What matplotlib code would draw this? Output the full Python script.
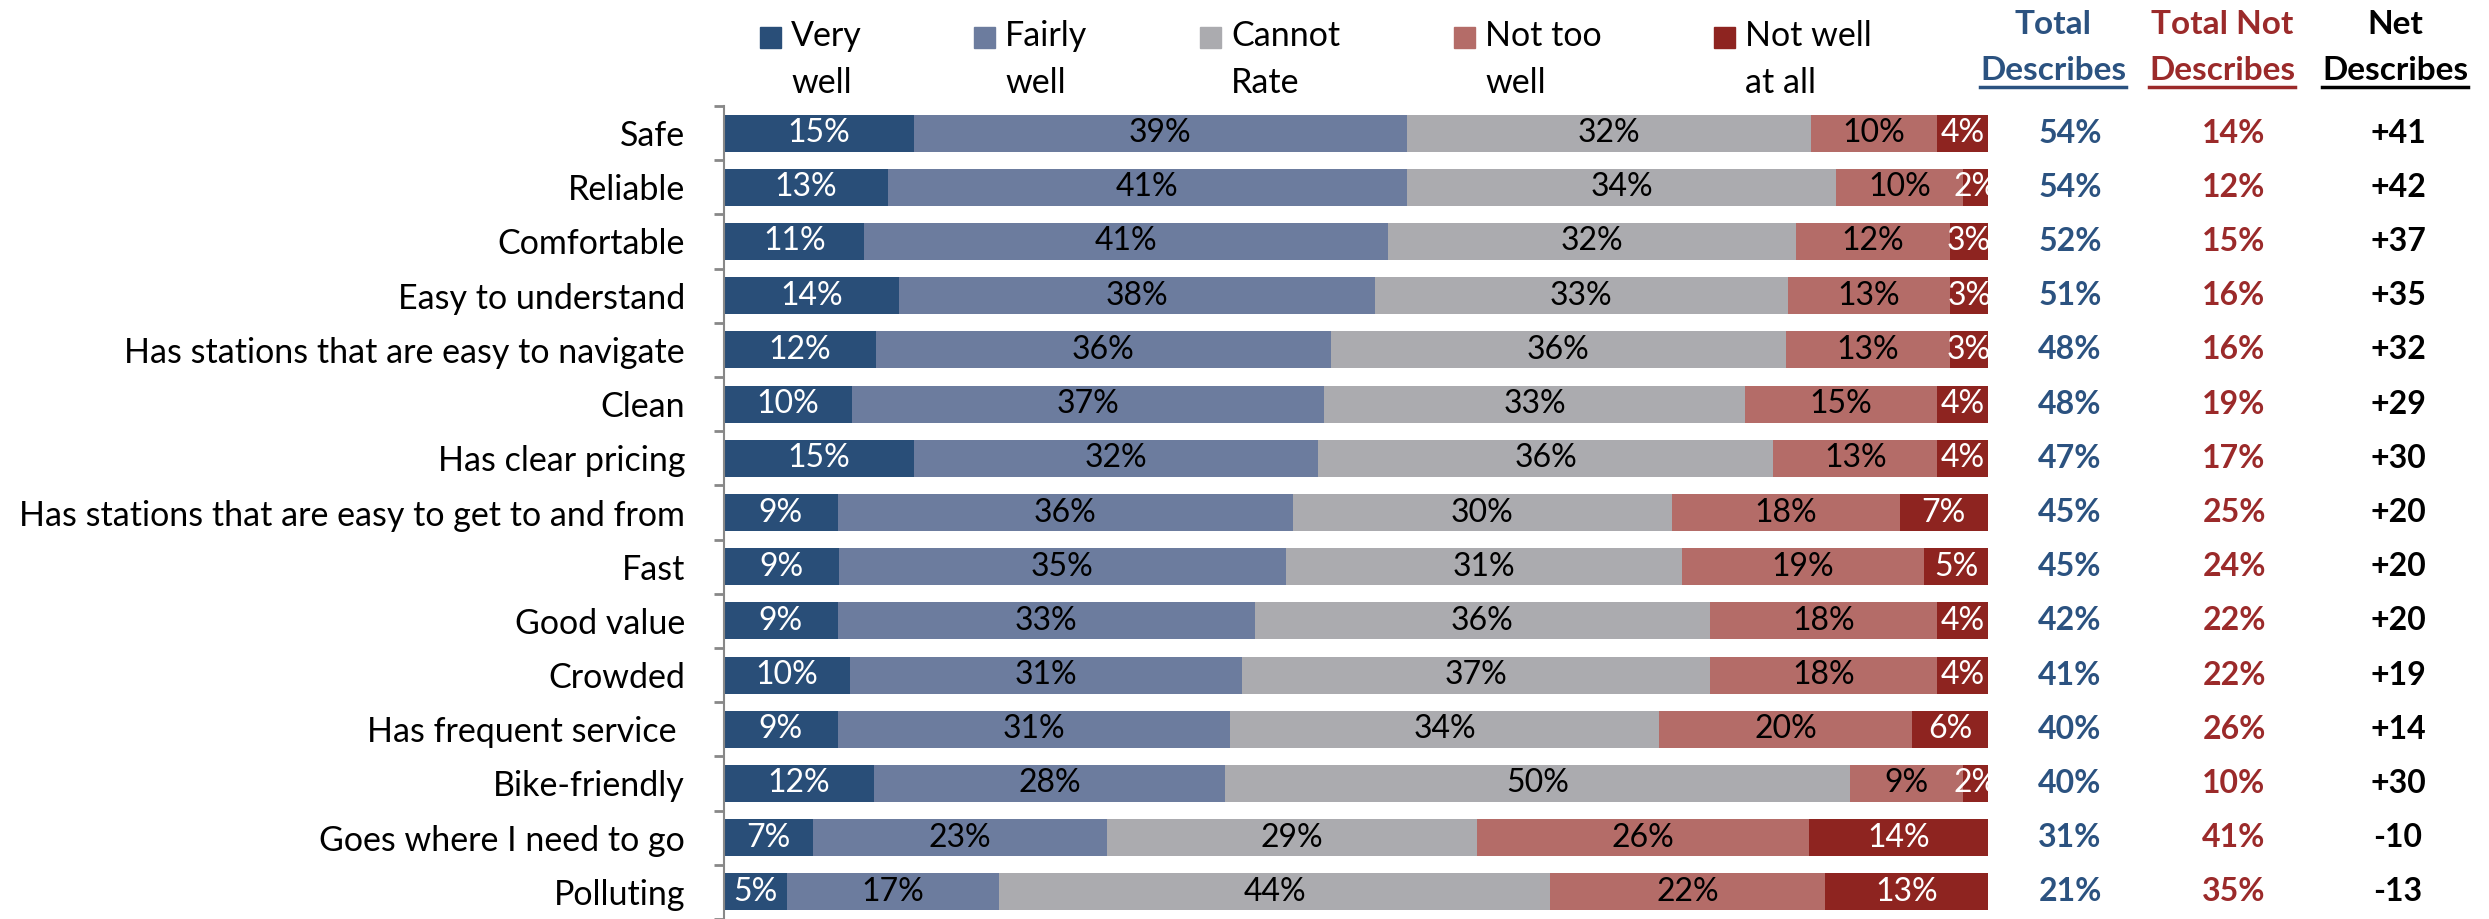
import matplotlib.pyplot as plt
import matplotlib.transforms as mtransforms
import numpy as np

plt.rcParams['font.family'] = ['Lato', 'DejaVu Sans']

categories = ['Safe', 'Reliable', 'Comfortable', 'Easy to understand',
              'Has stations that are easy to navigate', 'Clean', 'Has clear pricing',
              'Has stations that are easy to get to and from', 'Fast', 'Good value',
              'Crowded', 'Has frequent service ', 'Bike-friendly',
              'Goes where I need to go', 'Polluting']

very_well = [15, 13, 11, 14, 12, 10, 15, 9, 9, 9, 10, 9, 12, 7, 5]
fairly_well = [39, 41, 41, 38, 36, 37, 32, 36, 35, 33, 31, 31, 28, 23, 17]
cannot_rate = [32, 34, 32, 33, 36, 33, 36, 30, 31, 36, 37, 34, 50, 29, 44]
not_too_well = [10, 10, 12, 13, 13, 15, 13, 18, 19, 18, 18, 20, 9, 26, 22]
not_well_at_all = [4, 2, 3, 3, 3, 4, 4, 7, 5, 4, 4, 6, 2, 14, 13]

total_describes = [54, 54, 52, 51, 48, 48, 47, 45, 45, 42, 41, 40, 40, 31, 21]
total_not = [14, 12, 15, 16, 16, 19, 17, 25, 24, 22, 22, 26, 10, 41, 35]
net_describes = [41, 42, 37, 35, 32, 29, 30, 20, 20, 20, 19, 14, 30, -10, -13]

series = [very_well, fairly_well, cannot_rate, not_too_well, not_well_at_all]
legend_labels = ['Very\nwell', 'Fairly\nwell', 'Cannot\nRate', 'Not too\nwell', 'Not well\nat all']
colors = ['#294E78', '#6C7C9E', '#ABABAF', '#B46C68', '#8E2420']
text_colors = ['white', 'black', 'black', 'black', 'white']

W, H = 2489, 919
fig = plt.figure(figsize=(W / 100, H / 100), dpi=100)
ax = fig.add_axes([724 / W, 0, 1264 / W, 1 - 106 / H])

data = np.array(series, dtype=float)
shares = data / data.sum(axis=0)
y = np.arange(len(categories))
left = np.zeros(len(categories))
for vals, share, col, tcol in zip(series, shares, colors, text_colors):
    ax.barh(y, share, left=left, height=0.68, color=col, edgecolor='none')
    for i in range(len(categories)):
        ax.text(left[i] + share[i] / 2, y[i], f'{vals[i]}%', ha='center', va='center',
                fontsize=23, color=tcol)
    left += share

ax.set_xlim(0, 1)
ax.set_ylim(-0.5 + 813 / 54.64, -0.5)
ax.set_yticks(y)
ax.set_yticklabels(categories, fontsize=24.5)
ax.tick_params(axis='y', which='major', length=0, pad=28)
ax.set_yticks(np.arange(-0.5, len(categories), 1), minor=True)
ax.tick_params(axis='y', which='minor', length=7, width=2, color='#888888')
ax.set_xticks([])
for s in ['top', 'right', 'bottom']:
    ax.spines[s].set_visible(False)
ax.spines['left'].set_color('#888888')
ax.spines['left'].set_linewidth(1.5)

# legend
leg_x = [760, 974, 1200, 1454, 1714]
for lx, lab, col in zip(leg_x, legend_labels, colors):
    fig.patches.append(plt.Rectangle((lx / W, 1 - 48 / H), 21 / W, 21 / H,
                                     transform=fig.transFigure, color=col))
    top, bottom = lab.split('\n')
    fig.text((lx + 31) / W, 1 - 36 / H, top, fontsize=24.5, va='center', ha='left')
    fig.text((lx + 31) / W, 1 - 83 / H, bottom, fontsize=24.5, va='center', ha='left')

# right-hand columns
blue, red = '#2B5280', '#9B2A2A'
cols = [(2053, 2070, 'Total', blue, total_describes, '{}%'),
        (2222, 2234, 'Total Not', red, total_not, '{}%'),
        (2395, 2398, 'Net', 'black', net_describes, '{:+d}')]
trans = mtransforms.blended_transform_factory(fig.transFigure, ax.transData)
heads = []
for hx, vx, first, col, vals, fmt in cols:
    fig.text(hx / W, 1 - 24 / H, first, fontsize=24, fontweight='bold', color=col,
             ha='center', va='center')
    t = fig.text(hx / W, 1 - 70 / H, 'Describes', fontsize=24, fontweight='bold', color=col,
                 ha='center', va='center')
    heads.append((t, col))
    for i, v in enumerate(vals):
        ax.text(vx / W, y[i], fmt.format(v), transform=trans, fontsize=23,
                fontweight='bold', color=col, ha='center', va='center')

fig.canvas.draw()
for t, col in heads:
    bb = t.get_window_extent().transformed(fig.transFigure.inverted())
    fig.add_artist(plt.Line2D([bb.x0, bb.x1], [1 - 87 / H] * 2, color=col, lw=2.5,
                              transform=fig.transFigure))

fig.savefig('out.png', dpi=100)
